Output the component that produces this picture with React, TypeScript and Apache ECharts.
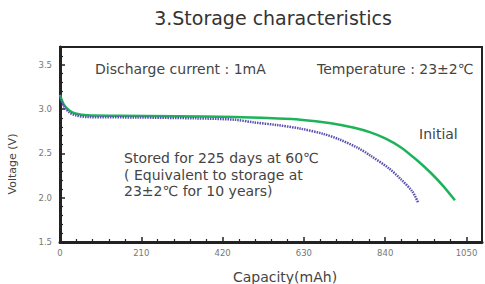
import React, { useEffect, useRef } from "react";
import * as echarts from "echarts";

const initialCapacity = [0, 10, 25, 40, 70, 150, 300, 450, 550, 620, 700, 760, 800, 840, 880, 920, 960, 990, 1020];
const initialVoltage = [3.16, 3.05, 2.98, 2.95, 2.93, 2.925, 2.92, 2.91, 2.895, 2.88, 2.84, 2.79, 2.74, 2.67, 2.57, 2.43, 2.27, 2.13, 1.97];

const storedCapacity = [0, 10, 25, 40, 70, 200, 350, 450, 500, 560, 620, 680, 720, 770, 800, 850, 880, 910, 925];
const storedVoltage = [3.14, 3.03, 2.96, 2.93, 2.91, 2.905, 2.895, 2.88, 2.85, 2.82, 2.78, 2.72, 2.66, 2.56, 2.48, 2.33, 2.21, 2.07, 1.945];

const xTickInterval = 210;
const yTickInterval = 0.5;

const FONT = "DejaVu Sans";

export default function App() {
  const ref = useRef<HTMLDivElement>(null);
  useEffect(() => {
    if (!ref.current) return;
    const chart = echarts.init(ref.current, undefined, { renderer: "svg" });
    const zip = (xs: number[], ys: number[]) => xs.map((x, i) => [x, ys[i]]);
    chart.setOption({
      animation: false,
      backgroundColor: "#fff",
      title: {
        text: "3.Storage characteristics",
        left: 268,
        top: 3,
        textAlign: "center",
        textStyle: { fontFamily: FONT, fontSize: 19, fontWeight: "normal", color: "#333" },
      },
      grid: {
        left: 60,
        top: 47,
        right: 3,
        bottom: 42,
        show: true,
        borderColor: "#222",
        borderWidth: 2,
      },
      xAxis: {
        type: "value",
        min: 0,
        max: 1090,
        interval: xTickInterval,
        axisLine: { show: true, lineStyle: { color: "#222", width: 3 } },
        axisTick: { inside: true, length: 5, lineStyle: { color: "#222", width: 1.5 } },
        minorTick: { show: true, splitNumber: 5, length: 3, lineStyle: { color: "#222", width: 1.2 } },
        splitLine: { show: false },
        axisLabel: {
          showMaxLabel: false,
          fontFamily: FONT,
          fontSize: 8.5,
          color: "#777",
          margin: 6,
          formatter: (v: number) => String(v),
        },
      },
      yAxis: {
        type: "value",
        min: 1.5,
        max: 3.7,
        interval: yTickInterval,
        axisLine: { show: true, lineStyle: { color: "#222", width: 3 } },
        axisTick: { inside: true, length: 5, lineStyle: { color: "#222", width: 1.5 } },
        minorTick: { show: true, splitNumber: 5, length: 3, lineStyle: { color: "#222", width: 1.2 } },
        splitLine: { show: false },
        axisLabel: {
          showMaxLabel: false,
          fontFamily: FONT,
          fontSize: 8.5,
          color: "#777",
          margin: 8,
          formatter: (v: number) => v.toFixed(1),
        },
      },
      series: [
        {
          name: "Initial",
          type: "line",
          smooth: 0.3,
          showSymbol: false,
          data: zip(initialCapacity, initialVoltage),
          lineStyle: { color: "#1db35a", width: 2.5 },
          z: 2,
        },
        {
          name: "Stored",
          type: "line",
          smooth: 0.3,
          showSymbol: false,
          data: zip(storedCapacity, storedVoltage),
          lineStyle: { color: "#5a50b0", width: 2.5, type: [1.5, 1] },
          z: 3,
        },
      ],
      graphic: [
        {
          type: "text",
          x: 12,
          y: 164,
          rotation: Math.PI / 2,
          style: {
            text: "Voltage (V)",
            font: `11px "${FONT}"`,
            fill: "#444",
            align: "center",
            verticalAlign: "middle",
          },
        },
        {
          type: "text",
          x: 285,
          y: 277,
          style: {
            text: "Capacity(mAh)",
            font: `14px "${FONT}"`,
            fill: "#444",
            align: "center",
            verticalAlign: "middle",
          },
        },
        {
          type: "text",
          left: 95,
          top: 62,
          style: { text: "Discharge current : 1mA", font: `14px "${FONT}"`, fill: "#444" },
        },
        {
          type: "text",
          left: 317,
          top: 62,
          style: { text: "Temperature : 23±2℃", font: `14px "${FONT}"`, fill: "#444" },
        },
        {
          type: "text",
          left: 419,
          top: 127,
          style: { text: "Initial", font: `14px "${FONT}"`, fill: "#444" },
        },
        {
          type: "text",
          left: 124,
          top: 150,
          style: {
            text: "Stored for 225 days at 60℃\n( Equivalent to storage at\n23±2℃ for 10 years)",
            font: `14px "${FONT}"`,
            lineHeight: 16.5,
            fill: "#444",
          },
        },
      ],
    });
    return () => chart.dispose();
  }, []);
  return (
    <div
      ref={ref}
      style={{ position: "absolute", left: 0, top: 0, width: 485, height: 284 }}
    />
  );
}
